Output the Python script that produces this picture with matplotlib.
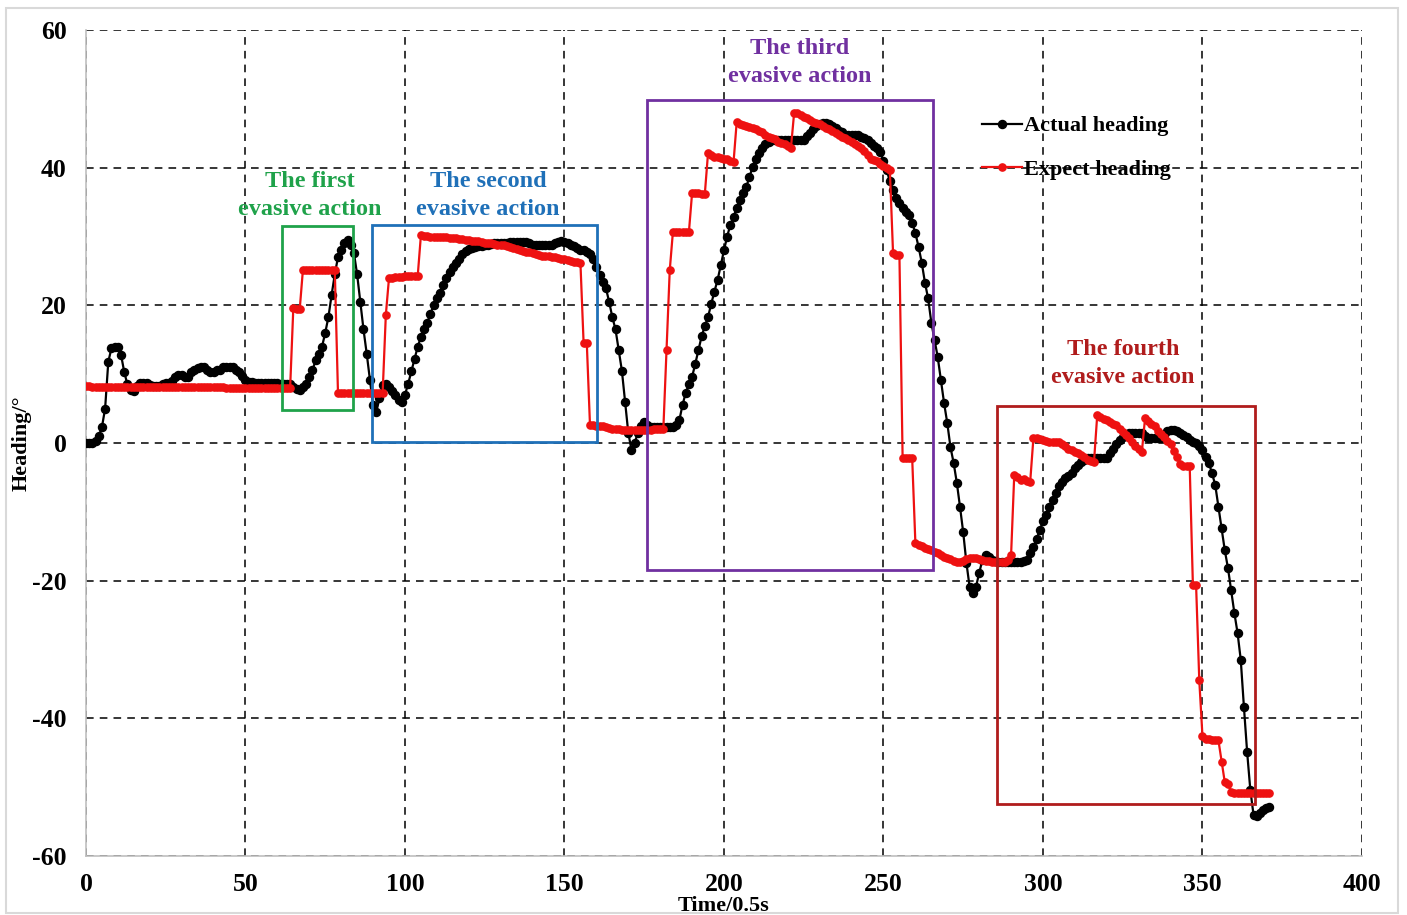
import numpy as np
import matplotlib
matplotlib.use('Agg')
import matplotlib.pyplot as plt
from matplotlib.patches import Rectangle

plt.rcParams['font.family'] = ['Liberation Serif', 'DejaVu Serif']
plt.rcParams['font.weight'] = 'bold'
plt.rcParams['axes.unicode_minus'] = False

# actual heading, one sample every 0.5 s (t = 0..371)
actual_heading = [
    0.0, 0.0, 0.0, 0.3, 1.0, 2.3, 5.0, 11.8, 13.8, 14.0,
    14.0, 12.8, 10.3, 8.5, 7.7, 7.5, 8.3, 8.7, 8.7, 8.7,
    8.4, 8.3, 8.3, 8.3, 8.5, 8.7, 8.7, 9.0, 9.6, 9.9,
    9.9, 9.6, 9.6, 10.3, 10.6, 10.9, 11.0, 11.0, 10.6, 10.3,
    10.3, 10.6, 10.6, 11.0, 11.0, 11.0, 11.0, 10.6, 10.3, 9.8,
    9.2, 8.9, 8.9, 8.7, 8.7, 8.7, 8.7, 8.7, 8.7, 8.7,
    8.7, 8.5, 8.5, 8.5, 8.5, 8.1, 7.9, 7.7, 8.1, 8.6,
    9.6, 10.6, 12.0, 13.0, 14.0, 16.0, 18.3, 21.5, 24.5, 27.0,
    28.0, 29.0, 29.5, 28.8, 27.6, 24.5, 20.5, 16.5, 13.0, 9.2,
    5.5, 4.5, 6.5, 8.4, 8.6, 8.2, 7.6, 7.0, 6.3, 6.0,
    7.0, 8.6, 10.4, 12.2, 14.0, 15.4, 16.5, 17.5, 18.8, 20.0,
    21.0, 21.8, 23.0, 24.0, 24.8, 25.5, 26.2, 26.8, 27.4, 27.9,
    28.2, 28.4, 28.5, 28.6, 28.6, 28.7, 28.8, 28.9, 29.0, 29.0,
    29.0, 29.1, 29.1, 29.2, 29.2, 29.2, 29.2, 29.2, 29.2, 29.0,
    28.8, 28.8, 28.8, 28.8, 28.8, 28.8, 28.8, 29.0, 29.2, 29.3,
    29.2, 29.0, 28.8, 28.6, 28.3, 28.1, 28.0, 27.8, 27.5, 26.8,
    25.6, 24.4, 23.4, 22.5, 20.5, 18.3, 16.5, 13.5, 10.5, 6.0,
    1.5, -1.0, 0.0, 1.5, 2.5, 3.0, 2.6, 2.3, 2.3, 2.3,
    2.3, 2.3, 2.3, 2.3, 2.3, 2.6, 3.3, 5.5, 7.3, 8.5,
    9.6, 11.5, 13.5, 15.5, 17.0, 18.3, 20.2, 22.0, 23.7, 25.8,
    28.0, 30.0, 31.7, 32.8, 34.2, 35.3, 36.3, 37.2, 38.7, 40.1,
    41.2, 42.1, 42.9, 43.5, 43.8, 44.0, 44.0, 44.0, 44.0, 44.0,
    44.0, 44.0, 44.0, 44.0, 44.0, 44.0, 44.6, 45.0, 45.6, 46.0,
    46.3, 46.5, 46.5, 46.3, 46.0, 45.7, 45.4, 45.2, 44.8, 44.8,
    44.8, 44.8, 44.8, 44.5, 44.3, 44.0, 43.6, 43.2, 42.8, 42.3,
    41.0, 39.7, 38.0, 36.8, 35.6, 34.8, 34.2, 33.6, 33.1, 32.0,
    30.5, 28.5, 26.2, 23.3, 21.0, 17.5, 15.0, 12.5, 9.2, 5.8,
    2.9, -0.6, -2.9, -5.8, -9.3, -13.0, -17.4, -20.9, -21.8, -20.9,
    -18.9, -17.0, -16.3, -16.6, -17.0, -17.2, -17.3, -17.3, -17.3, -17.3,
    -17.3, -17.3, -17.3, -17.3, -17.2, -17.0, -16.0, -15.1, -14.0, -12.6,
    -11.4, -10.4, -9.3, -8.3, -7.3, -6.2, -5.6, -5.1, -4.8, -4.3,
    -3.6, -3.2, -2.8, -2.4, -2.2, -2.2, -2.2, -2.2, -2.2, -2.2,
    -2.2, -1.5, -0.9, -0.2, 0.4, 0.9, 1.2, 1.4, 1.4, 1.4,
    1.4, 1.4, 1.0, 0.7, 0.7, 0.7, 0.7, 0.7, 1.2, 1.7,
    1.9, 1.9, 1.8, 1.4, 1.1, 0.9, 0.5, 0.2, 0.0, -0.4,
    -1.0, -2.0, -2.9, -4.4, -6.1, -9.3, -12.4, -15.6, -18.2, -21.4,
    -24.7, -27.6, -31.5, -38.4, -44.9, -50.4, -54.0, -54.2, -53.8, -53.3,
    -53.0, -52.9,
]

# expected heading from the planner, same sampling
expect_heading = [
    8.3, 8.3, 8.2, 8.2, 8.2, 8.2, 8.2, 8.2, 8.2, 8.2,
    8.2, 8.2, 8.2, 8.1, 8.1, 8.1, 8.1, 8.1, 8.1, 8.1,
    8.1, 8.1, 8.1, 8.1, 8.1, 8.1, 8.1, 8.1, 8.1, 8.1,
    8.1, 8.1, 8.1, 8.1, 8.1, 8.1, 8.1, 8.1, 8.1, 8.1,
    8.1, 8.1, 8.1, 8.1, 8.0, 8.0, 8.0, 8.0, 8.0, 8.0,
    8.0, 8.0, 8.0, 8.0, 8.0, 8.0, 8.0, 8.0, 8.0, 8.0,
    8.0, 8.0, 8.0, 8.0, 8.0, 19.6, 19.4, 19.4, 25.1, 25.1,
    25.1, 25.1, 25.1, 25.1, 25.1, 25.1, 25.1, 25.1, 25.1, 7.3,
    7.3, 7.3, 7.3, 7.3, 7.3, 7.3, 7.3, 7.3, 7.3, 7.3,
    7.3, 7.3, 7.3, 7.3, 18.6, 24.0, 24.0, 24.1, 24.1, 24.1,
    24.2, 24.2, 24.2, 24.3, 24.3, 30.2, 30.1, 30.1, 30.0, 30.0,
    30.0, 29.9, 29.9, 29.9, 29.8, 29.8, 29.8, 29.7, 29.6, 29.5,
    29.5, 29.4, 29.3, 29.3, 29.2, 29.1, 29.0, 29.0, 28.9, 28.8,
    28.8, 28.7, 28.6, 28.5, 28.3, 28.2, 28.0, 27.9, 27.8, 27.7,
    27.6, 27.5, 27.3, 27.2, 27.1, 27.1, 27.0, 27.0, 26.9, 26.8,
    26.7, 26.6, 26.5, 26.3, 26.3, 26.2, 14.5, 14.5, 2.6, 2.6,
    2.5, 2.5, 2.4, 2.3, 2.2, 2.1, 2.0, 2.0, 1.9, 1.9,
    1.9, 1.9, 1.9, 1.9, 1.9, 1.9, 1.9, 1.9, 2.0, 2.0,
    2.0, 2.1, 13.5, 25.1, 30.7, 30.7, 30.7, 30.6, 30.6, 30.6,
    36.3, 36.3, 36.3, 36.2, 36.2, 42.1, 41.8, 41.6, 41.5, 41.4,
    41.3, 41.2, 41.0, 40.8, 46.7, 46.4, 46.2, 46.0, 45.9, 45.8,
    45.6, 45.4, 45.2, 44.8, 44.5, 44.3, 44.1, 43.8, 43.6, 43.4,
    43.1, 42.9, 48.0, 47.9, 47.7, 47.4, 47.2, 46.9, 46.7, 46.5,
    46.3, 46.0, 45.8, 45.6, 45.3, 45.0, 44.8, 44.5, 44.3, 44.0,
    43.8, 43.5, 43.2, 42.9, 42.4, 41.8, 41.3, 41.1, 40.9, 40.6,
    40.3, 40.0, 39.7, 27.6, 27.3, 27.3, -2.2, -2.2, -2.2, -2.2,
    -14.5, -14.8, -15.0, -15.3, -15.4, -15.6, -15.8, -16.0, -16.3, -16.5,
    -16.7, -16.9, -17.1, -17.3, -17.3, -17.1, -16.9, -16.7, -16.7, -16.7,
    -16.8, -17.0, -17.1, -17.2, -17.3, -17.3, -17.3, -17.3, -17.3, -17.0,
    -16.3, -4.6, -5.0, -5.4, -5.2, -5.5, -5.6, 0.7, 0.7, 0.6,
    0.5, 0.3, 0.2, 0.2, 0.2, 0.1, -0.2, -0.5, -0.8, -1.0,
    -1.3, -1.5, -1.8, -2.1, -2.4, -2.6, -2.7, 4.0, 3.8, 3.5,
    3.3, 3.1, 2.8, 2.6, 2.1, 1.6, 1.2, 0.7, 0.2, -0.4,
    -0.9, -1.3, 3.6, 3.2, 2.8, 2.4, 1.8, 1.3, 0.8, 0.3,
    -0.2, -1.2, -2.0, -3.0, -3.3, -3.4, -3.4, -20.7, -20.7, -34.5,
    -42.6, -43.0, -43.0, -43.1, -43.2, -43.2, -46.3, -49.3, -49.5, -50.7,
    -50.9, -50.9, -50.9, -50.9, -50.9, -50.9, -50.9, -50.9, -50.9, -50.9,
    -50.9, -50.9,
]

x_ticks = [0, 50, 100, 150, 200, 250, 300, 350, 400]
y_ticks = [-60, -40, -20, 0, 20, 40, 60]

# evasive action windows: (label, t0, t1, heading_low, heading_high, label_x, label_y, colour)
actions = [
    ('The first\nevasive action', 61.3, 83.8, 4.8, 31.5, 70.2, 36.0, '#1fa24a'),
    ('The second\nevasive action', 89.6, 160.3, 0.2, 31.7, 126.0, 36.0, '#1f70b8'),
    ('The third\nevasive action', 175.8, 265.6, -18.5, 49.8, 223.8, 55.3, '#7030a0'),
    ('The fourth\nevasive action', 285.5, 366.5, -52.4, 5.4, 325.1, 11.6, '#b01c1c'),
]


def main():
    fig = plt.figure(figsize=(14.07, 9.15), dpi=100)
    ax = fig.add_axes([0.0611, 0.0645, 0.9069, 0.9027])

    t_act = np.arange(len(actual_heading))
    t_exp = np.arange(len(expect_heading))

    ax.plot(t_act, actual_heading, color='black', lw=1.6, marker='o', ms=5.8,
            label='Actual heading', zorder=3)
    ax.plot(t_exp, expect_heading, color='#ee1111', lw=1.6, marker='o', ms=5.2,
            label='Expect heading', zorder=4)

    for text, x0, x1, y0, y1, tx, ty, c in actions:
        ax.add_patch(Rectangle((x0, y0), x1 - x0, y1 - y0, fill=False,
                               edgecolor=c, lw=2.0, zorder=5))
        ax.text(tx, ty, text, color=c, fontsize=17.5, fontweight='bold',
                ha='center', va='center', linespacing=1.45, zorder=6)

    ax.set_xlim(0, 400)
    ax.set_ylim(-60, 60)
    ax.set_xticks(x_ticks)
    ax.set_yticks(y_ticks)
    ax.tick_params(axis='both', length=0, labelsize=18.5)
    ax.tick_params(axis='x', pad=12)
    ax.tick_params(axis='y', pad=14)
    for lab in ax.get_xticklabels() + ax.get_yticklabels():
        lab.set_fontweight('bold')

    ax.grid(True, color='black', lw=1.1, linestyle=(0, (5, 4)))
    ax.set_axisbelow(True)
    for side in ['top', 'right']:
        ax.spines[side].set_visible(False)
    for side in ['left', 'bottom']:
        ax.spines[side].set_color('#bfbfbf')
        ax.spines[side].set_linewidth(1.2)

    fig.text(0.5146, 0.0095, 'Time/0.5s', fontsize=16, fontweight='bold',
             ha='center', va='center')
    fig.text(0.0156, 0.5158, 'Heading/°', fontsize=16, fontweight='bold',
             ha='center', va='center', rotation=90)

    leg = ax.legend(loc='upper left', bbox_to_anchor=(0.702, 0.896), frameon=False,
                    fontsize=16, handlelength=1.8, handletextpad=0.1,
                    labelspacing=1.02, borderpad=0, borderaxespad=0)
    for txt in leg.get_texts():
        txt.set_fontweight('bold')

    # light frame round the whole figure
    fig.add_artist(Rectangle((6 / 1407, 2 / 915), 1392 / 1407, 905 / 915,
                             transform=fig.transFigure, fill=False,
                             edgecolor='#d9d9d9', lw=1.5))

    fig.savefig('out.png', dpi=100)


if __name__ == '__main__':
    main()
